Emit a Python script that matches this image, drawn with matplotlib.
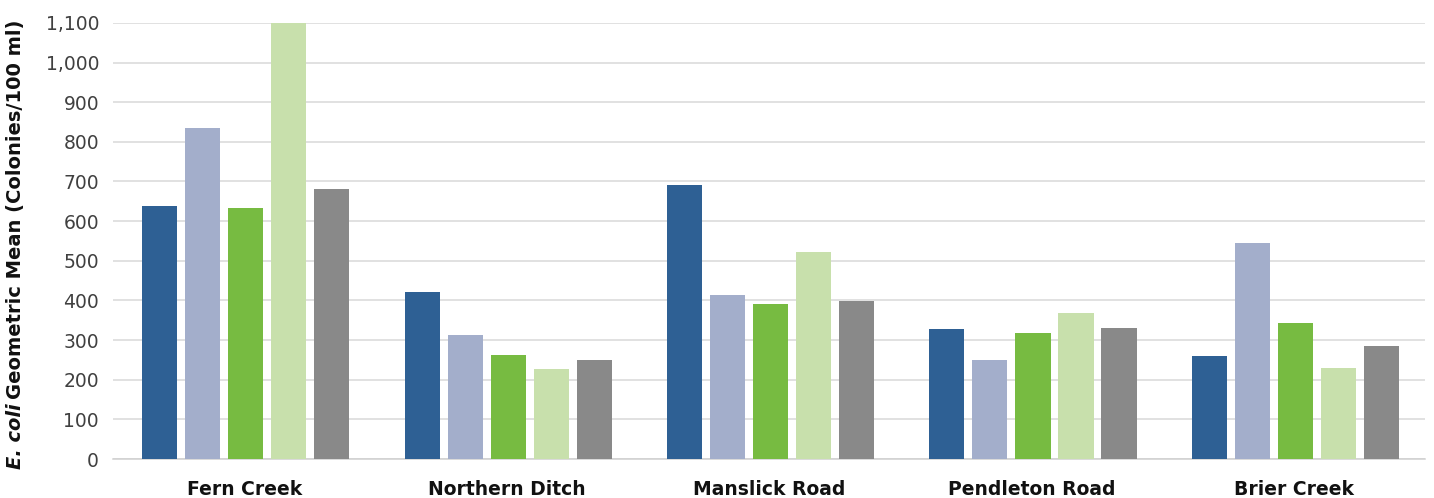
import numpy as np
import matplotlib.pyplot as plt

# Data
sites = ["Fern Creek", "Northern Ditch", "Manslick Road", "Pendleton Road", "Brier Creek"]
series_a = [638, 420, 690, 327, 261]
series_b = [835, 312, 414, 249, 545]
series_c = [633, 263, 391, 319, 342]
series_d = [1100, 227, 523, 368, 230]
series_e = [681, 250, 399, 331, 286]
yticks = list(range(0, 1101, 100))

colors = ["#2E6094", "#A3AECB", "#77BB41", "#C8E0AC", "#898989"]
font = "DejaVu Sans"

fig = plt.figure(figsize=(14.34, 4.98), dpi=100)
ax = fig.add_axes([0.0788, 0.0783, 0.9149, 0.8757])

x = np.arange(len(sites))
step = 0.164
width = 0.134
all_series = [series_a, series_b, series_c, series_d, series_e]
for i, (vals, col) in enumerate(zip(all_series, colors)):
    ax.bar(x + (i - 2) * step + 0.006, vals, width=width, color=col, zorder=3)

ax.set_xlim(-0.5, len(sites) - 0.5)
ax.set_ylim(0, 1100)
ax.set_yticks(yticks)
ax.set_yticklabels([f"{v:,}" for v in yticks], fontname=font, fontsize=13.5, color="#404040")
ax.set_xticks(x)
ax.set_xticklabels(sites, fontname=font, fontsize=13.5, fontweight="bold", color="#111111")
ax.tick_params(axis="both", length=0)
ax.tick_params(axis="y", pad=10)
ax.tick_params(axis="x", pad=15)

ax.grid(axis="y", color="#D9D9D9", linewidth=1.1, zorder=0)
for s in ["top", "right", "left"]:
    ax.spines[s].set_visible(False)
ax.spines["bottom"].set_color("#D0D0D0")
ax.spines["bottom"].set_linewidth(1.1)

# y label in two parts: italic species name + bold rest
fig.canvas.draw()
r = fig.canvas.get_renderer()
t1 = fig.text(0.004, 0.058, "E. coli", rotation=90, fontname=font, fontsize=14,
              fontweight="bold", fontstyle="italic", ha="left", va="bottom", color="#111111")
bb = t1.get_window_extent(r)
t2 = fig.text(0.004, (bb.y1 + 4) / fig.bbox.height, "Geometric Mean (Colonies/100 ml)",
              rotation=90, fontname=font, fontsize=14, fontweight="bold",
              ha="left", va="bottom", color="#111111")

fig.savefig("out.png", dpi=100)
